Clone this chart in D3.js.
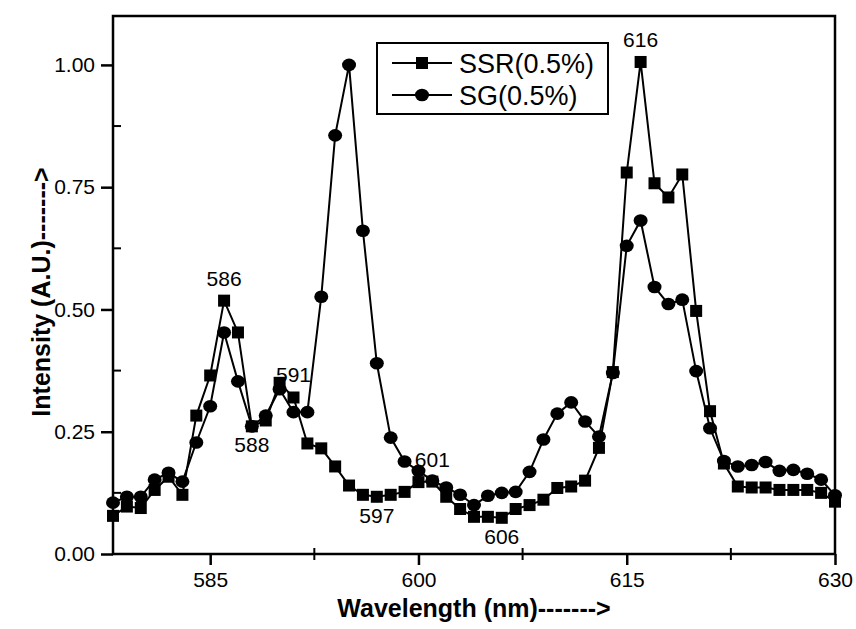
<!DOCTYPE html>
<html>
<head>
<meta charset="utf-8">
<script src="https://cdn.jsdelivr.net/npm/d3@7"></script>
<style>
  body { margin: 0; background: #fff; }
  svg { display: block; }
  text { font-family: Arial, "Liberation Sans", sans-serif; fill: #000; }
</style>
</head>
<body>
<svg id="chart" width="856" height="629"></svg>
<script>
// wavelength (nm)
var wavelength = [578, 579, 580, 581, 582, 583, 584, 585, 586, 587, 588, 589, 590, 591, 592, 593, 594,
  595, 596, 597, 598, 599, 600, 601, 602, 603, 604, 605, 606, 607, 608, 609, 610, 611, 612, 613, 614,
  615, 616, 617, 618, 619, 620, 621, 622, 623, 624, 625, 626, 627, 628, 629, 630];

var ssr = [0.078, 0.097, 0.094, 0.131, 0.158, 0.121, 0.283, 0.365, 0.518, 0.453, 0.261, 0.273, 0.350,
  0.320, 0.226, 0.216, 0.179, 0.140, 0.121, 0.117, 0.121, 0.127, 0.147, 0.148, 0.117, 0.092, 0.076,
  0.076, 0.074, 0.092, 0.100, 0.111, 0.135, 0.138, 0.150, 0.217, 0.372, 0.780, 1.006, 0.758, 0.729,
  0.776, 0.497, 0.292, 0.185, 0.138, 0.136, 0.136, 0.131, 0.131, 0.131, 0.125, 0.107];

var sg = [0.105, 0.117, 0.117, 0.152, 0.166, 0.148, 0.228, 0.302, 0.453, 0.353, 0.261, 0.283, 0.337,
  0.290, 0.290, 0.526, 0.856, 1.000, 0.661, 0.390, 0.238, 0.189, 0.170, 0.150, 0.136, 0.121, 0.100,
  0.119, 0.125, 0.127, 0.168, 0.234, 0.287, 0.310, 0.271, 0.240, 0.370, 0.630, 0.682, 0.546, 0.511,
  0.520, 0.374, 0.257, 0.190, 0.179, 0.182, 0.188, 0.170, 0.172, 0.164, 0.152, 0.120];

var xTicks = [585, 600, 615, 630];
var yTicks = [0, 0.25, 0.5, 0.75, 1.0];

// peak labels, placed on the SSR point
var peakWl = [586, 588, 591, 597, 601, 606, 616];
var peakSide = ["up", "down", "up", "down", "up", "down", "up"];

var seriesNames = ["SSR(0.5%)", "SG(0.5%)"];

var svg = d3.select("#chart");
var margin = {top: 16, right: 21, bottom: 75, left: 113};
var W = 856, H = 629;

var x = d3.scaleLinear().domain([578, 630]).range([margin.left, W - margin.right]);
var y = d3.scaleLinear().domain([0, 1.1]).range([H - margin.bottom, margin.top]);

var g = svg.append("g");

// frame
g.append("rect")
  .attr("x", x.range()[0]).attr("y", y.range()[1])
  .attr("width", x.range()[1] - x.range()[0])
  .attr("height", y.range()[0] - y.range()[1])
  .attr("fill", "none").attr("stroke", "#000").attr("stroke-width", 2.5);

// axes
var xAxis = g.append("g")
  .attr("transform", "translate(0," + y(0) + ")")
  .call(d3.axisBottom(x).tickValues(xTicks).tickFormat(d3.format("d")).tickSize(11).tickPadding(7));

var yAxis = g.append("g")
  .attr("transform", "translate(" + x(578) + ",0)")
  .call(d3.axisLeft(y).tickValues(yTicks).tickFormat(d3.format(".2f")).tickSize(12).tickPadding(6));

[xAxis, yAxis].forEach(function(a) {
  a.select(".domain").remove();
  a.selectAll(".tick line").attr("stroke", "#000").attr("stroke-width", 2.5);
  a.selectAll(".tick text").style("font-size", "21px").attr("fill", "#000");
});

// minor ticks
g.selectAll(".xminor").data([592.5, 607.5, 622.5]).enter()
  .append("line")
  .attr("x1", function(d) { return x(d); }).attr("x2", function(d) { return x(d); })
  .attr("y1", y(0) - 6).attr("y2", y(0) + 6)
  .attr("stroke", "#000").attr("stroke-width", 2);

g.selectAll(".yminor").data([0.125, 0.375, 0.625, 0.875]).enter()
  .append("line")
  .attr("x1", x(578)).attr("x2", x(578) + 8)
  .attr("y1", function(d) { return y(d); }).attr("y2", function(d) { return y(d); })
  .attr("stroke", "#000").attr("stroke-width", 2);

// lines
var line = d3.line()
  .x(function(d, i) { return x(wavelength[i]); })
  .y(function(d) { return y(d); });

[ssr, sg].forEach(function(s) {
  g.append("path")
    .datum(s)
    .attr("d", line)
    .attr("fill", "none")
    .attr("stroke", "#000")
    .attr("stroke-width", 2);
});

// markers
var SQ = 12;
g.selectAll(".sq").data(ssr).enter()
  .append("rect")
  .attr("x", function(d, i) { return x(wavelength[i]) - SQ / 2; })
  .attr("y", function(d) { return y(d) - SQ / 2; })
  .attr("width", SQ).attr("height", SQ)
  .attr("fill", "#000");

g.selectAll(".dot").data(sg).enter()
  .append("ellipse")
  .attr("cx", function(d, i) { return x(wavelength[i]); })
  .attr("cy", function(d) { return y(d); })
  .attr("rx", 7).attr("ry", 6.3)
  .attr("fill", "#000");

// peak labels
g.selectAll(".peak").data(peakWl).enter()
  .append("text")
  .attr("x", function(d) { return x(d); })
  .attr("y", function(d, i) {
    var v = ssr[wavelength.indexOf(d)];
    return peakSide[i] == "up" ? y(v) - 15 : y(v) + 26;
  })
  .attr("text-anchor", "middle")
  .style("font-size", "21px")
  .text(function(d) { return d; });

// legend
var legend = g.append("g");
legend.append("rect")
  .attr("x", 377).attr("y", 43).attr("width", 231).attr("height", 71)
  .attr("fill", "#fff").attr("stroke", "#000").attr("stroke-width", 2);

seriesNames.forEach(function(name, i) {
  var ly = 63 + i * 32;
  legend.append("line")
    .attr("x1", 392).attr("x2", 452).attr("y1", ly).attr("y2", ly)
    .attr("stroke", "#000").attr("stroke-width", 1.8);
  if (i == 0) {
    legend.append("rect").attr("x", 422 - SQ / 2).attr("y", ly - SQ / 2)
      .attr("width", SQ).attr("height", SQ).attr("fill", "#000");
  } else {
    legend.append("ellipse").attr("cx", 422).attr("cy", ly)
      .attr("rx", 7).attr("ry", 6.3).attr("fill", "#000");
  }
  legend.append("text")
    .attr("x", 459).attr("y", ly + 10)
    .style("font-size", "27px")
    .text(name);
});

// axis titles
svg.append("text")
  .attr("x", 474).attr("y", 617)
  .attr("text-anchor", "middle")
  .style("font-size", "25px").style("font-weight", "bold")
  .text("Wavelength (nm)------->");

svg.append("text")
  .attr("transform", "translate(50,292) rotate(-90)")
  .attr("text-anchor", "middle")
  .style("font-size", "25px").style("font-weight", "bold")
  .text("Intensity (A.U.)------->");
</script>
</body>
</html>
